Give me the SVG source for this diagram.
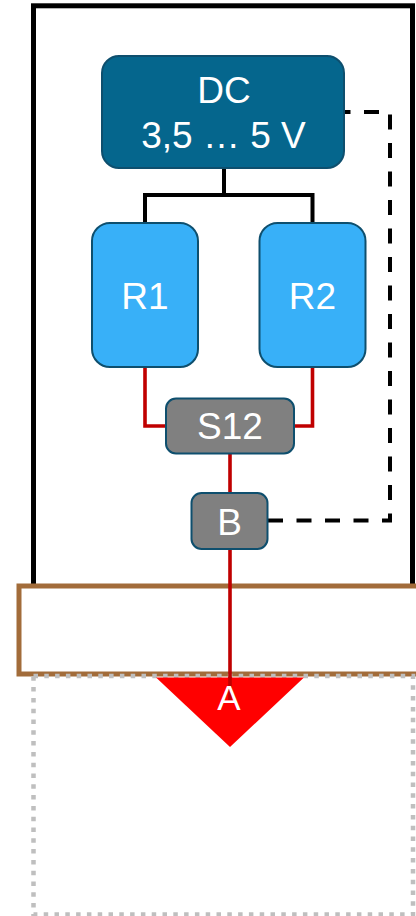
<svg xmlns="http://www.w3.org/2000/svg" width="416" height="916" viewBox="0 0 416 916">
<style>
.lbl{font-family:"Liberation Sans",Arial,sans-serif;fill:#ffffff;text-anchor:middle;font-size:37px}
.node{stroke:#0E4F6E;stroke-width:2}
.pwr{fill:none;stroke:#000000;stroke-width:4}
.sig{fill:none;stroke:#C00000;stroke-width:3.6}
.dash{fill:none;stroke:#000000;stroke-width:4;stroke-dasharray:15 13.5}
</style>
<rect id="housing" x="33.5" y="5.8" width="379" height="600" fill="#ffffff" stroke="#000000" stroke-width="5"/>
<rect id="plate" x="19" y="586" width="410" height="88" fill="#ffffff" stroke="#A26C3A" stroke-width="5"/>
<rect id="zone" x="33.5" y="676" width="379.5" height="238.5" fill="none" stroke="#BFBFBF" stroke-width="4.5" stroke-dasharray="4.5 6.3"/>
<g id="connectors">
<path class="pwr" d="M224 168 V195 M145 195 H313 M145 193 V223 M312.5 193 V223"/>
<path class="sig" d="M145 367 V426 H166 M312.5 367 V426 H294 M230 453 V493 M230 549 V700"/>
<path class="dash" d="M268 520.5 H390 V112 H344"/>
</g>
<g id="DC">
<rect class="node" x="102" y="56" width="242" height="112" rx="17" fill="#05668D"/>
<text class="lbl" x="224" y="103">DC</text>
<text class="lbl" x="223.5" y="148">3,5 … 5 V</text>
</g>
<g id="R1">
<rect class="node" x="92" y="223" width="106" height="144" rx="18" fill="#38B0F8"/>
<text class="lbl" x="145" y="309">R1</text>
</g>
<g id="R2">
<rect class="node" x="259.5" y="223" width="106" height="144" rx="18" fill="#38B0F8"/>
<text class="lbl" x="312.5" y="309">R2</text>
</g>
<g id="S12">
<rect class="node" x="166" y="398.5" width="128" height="55" rx="10" fill="#808080"/>
<text class="lbl" x="230" y="439">S12</text>
</g>
<g id="B">
<rect class="node" x="191.5" y="493" width="76" height="56" rx="10" fill="#808080"/>
<text class="lbl" x="229.5" y="535">B</text>
</g>
<g id="A">
<polygon points="156,677.5 304,677.5 230,747" fill="#FF0000"/>
<path class="sig" d="M230 677 V700"/>
<text class="lbl" x="229" y="710" style="font-size:35px">A</text>
</g>
</svg>
